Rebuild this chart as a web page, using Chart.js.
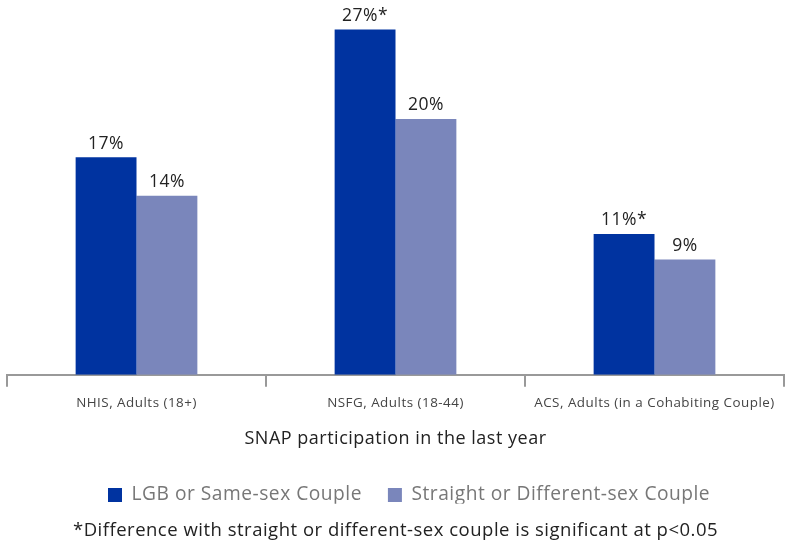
<!DOCTYPE html>
<html>
<head>
<meta charset="utf-8">
<script src="https://cdn.jsdelivr.net/npm/chart.js@4.4.0/dist/chart.umd.min.js"></script>
<style>
  html, body { margin: 0; padding: 0; background: #fff; }
  #wrap { width: 789px; height: 545px; }
</style>
</head>
<body>
<div id="wrap"><canvas id="c" width="789" height="545"></canvas></div>
<script>
const categories = ["NHIS, Adults (18+)", "NSFG, Adults (18-44)", "ACS, Adults (in a Cohabiting Couple)"];
const seriesNames = ["LGB or Same-sex Couple", "Straight or Different-sex Couple"];
const lgbValues = [17, 27, 11];
const straightValues = [14, 20, 9];
const lgbLabels = ["17%", "27%*", "11%*"];
const straightLabels = ["14%", "20%", "9%"];
const axisTitle = "SNAP participation in the last year";
const footnote = "*Difference with straight or different-sex couple is significant at p<0.05";

const FONT = "'Open Sans', sans-serif";
const LETTER_SPACING = "0.5px";
const LEGEND_PAD = 26;

const spacing = {
  id: 'spacing',
  beforeUpdate(chart) { chart.ctx.letterSpacing = LETTER_SPACING; },
  beforeDraw(chart) { chart.ctx.letterSpacing = LETTER_SPACING; },
  afterLayout(chart) {
    const lg = chart.legend;
    const w = lg.right - lg.left;
    const h = lg.bottom - lg.top;
    lg.left = 108 - LEGEND_PAD;
    lg.right = lg.left + w;
    lg.top = lg.top - (LEGEND_PAD - 14);
    lg.bottom = lg.top + h;
  }
};

const valueLabels = {
  id: 'valueLabels',
  afterDatasetsDraw(chart) {
    const ctx = chart.ctx;
    const labelSets = [lgbLabels, straightLabels];
    ctx.save();
    ctx.font = "17.5px " + FONT;
    ctx.fillStyle = "#222";
    ctx.textAlign = "center";
    ctx.textBaseline = "bottom";
    chart.data.datasets.forEach((ds, di) => {
      const meta = chart.getDatasetMeta(di);
      meta.data.forEach((bar, i) => {
        ctx.fillText(labelSets[di][i], bar.x, bar.y - 5);
      });
    });
    ctx.restore();
  }
};

new Chart(document.getElementById('c'), {
  type: 'bar',
  data: {
    labels: categories,
    datasets: [
      { label: seriesNames[0], data: lgbValues, backgroundColor: "#0033a0", categoryPercentage: 0.47, barPercentage: 1.0 },
      { label: seriesNames[1], data: straightValues, backgroundColor: "#7a86bb", categoryPercentage: 0.47, barPercentage: 1.0 }
    ]
  },
  options: {
    responsive: false,
    animation: false,
    layout: { padding: { left: 7, right: 5, top: 0, bottom: 0 } },
    scales: {
      y: { display: false, min: 0, max: 29.3 },
      x: {
        border: { display: true, color: "#999", width: 2 },
        grid: { display: true, drawOnChartArea: false, drawTicks: true, tickLength: 12, color: "#999", lineWidth: 2, offset: true },
        ticks: { font: { family: FONT, size: 13.4 }, color: "#444", padding: 8 },
        title: { display: true, text: axisTitle, font: { family: FONT, size: 18 }, color: "#222", padding: { top: 9, bottom: 22 } }
      }
    },
    plugins: {
      legend: {
        position: 'bottom',
        align: 'start',
        maxHeight: 44.4,
        labels: { font: { family: FONT, size: 19.2 }, color: "#777", boxWidth: 14, boxHeight: 14, padding: LEGEND_PAD }
      },
      title: {
        display: true, position: 'bottom', text: footnote,
        font: { family: FONT, size: 18.5, weight: 'normal' }, color: "#222",
        padding: { top: 4, bottom: 3 }
      },
      tooltip: { enabled: false }
    }
  },
  plugins: [spacing, valueLabels]
});
</script>
</body>
</html>
